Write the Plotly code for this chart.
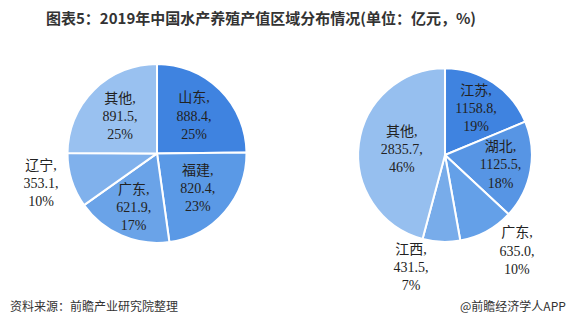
import plotly.graph_objects as go

# Left pie: 2019 province breakdown (part 1)
left_labels = ["山东", "福建", "广东", "辽宁", "其他"]
left_values = [888.4, 820.4, 621.9, 353.1, 891.5]
left_colors = ["#3f83e0", "#5a99e6", "#6aa3e8", "#80b1ec", "#99c1f0"]
left_textpos = ["inside", "inside", "inside", "outside", "inside"]

# Right pie: part 2
right_labels = ["江苏", "湖北", "广东", "江西", "其他"]
right_values = [1158.8, 1125.5, 635.0, 431.5, 2835.7]
right_colors = ["#3f83e0", "#5795e4", "#64a0e8", "#78acea", "#96bfef"]
right_textpos = ["inside", "inside", "outside", "outside", "inside"]

title_text = "图表5：2019年中国水产养殖产值区域分布情况(单位：亿元，%)"
source_text = "资料来源：前瞻产业研究院整理"
brand_text = "@前瞻经济学人APP"

label_font = dict(family="Liberation Serif, Noto Sans CJK SC", size=14, color="#222222")
tmpl = "%{label},<br>%{value:.1f},<br>%{percent:.0%}"

fig = go.Figure()
fig.add_trace(go.Pie(
    labels=left_labels, values=left_values, sort=False, direction="clockwise", rotation=0,
    marker=dict(colors=left_colors, line=dict(color="white", width=2)),
    texttemplate=tmpl, textposition=left_textpos, insidetextorientation="horizontal",
    textfont=label_font, outsidetextfont=label_font, insidetextfont=label_font,
    domain=dict(x=[0.117, 0.432], y=[0.255, 0.804]), showlegend=False, hoverinfo="label+value+percent",
))
fig.add_trace(go.Pie(
    labels=right_labels, values=right_values, sort=False, direction="clockwise", rotation=0,
    marker=dict(colors=right_colors, line=dict(color="white", width=2)),
    texttemplate=tmpl, textposition=right_textpos, insidetextorientation="horizontal",
    textfont=label_font, outsidetextfont=label_font, insidetextfont=label_font,
    domain=dict(x=[0.626, 0.930], y=[0.258, 0.791]), showlegend=False, hoverinfo="label+value+percent",
))

fig.add_annotation(text="<b>" + title_text + "</b>", x=261 / 572, y=1 - 17 / 326, xref="paper", yref="paper",
                   xanchor="center", yanchor="middle", showarrow=False,
                   font=dict(family="Noto Sans CJK SC", size=15, color="#333333"))
fig.add_annotation(text=source_text, x=8 / 572, y=1 - 305 / 326, xref="paper", yref="paper",
                   xanchor="left", yanchor="middle", showarrow=False,
                   font=dict(family="Noto Sans CJK SC", size=12, color="#333333"))
fig.add_annotation(text=brand_text, x=568 / 572, y=1 - 305 / 326, xref="paper", yref="paper",
                   xanchor="right", yanchor="middle", showarrow=False,
                   font=dict(family="Noto Sans CJK SC", size=12, color="#333333"))

fig.update_layout(width=572, height=326, margin=dict(l=0, r=0, t=0, b=0),
                  paper_bgcolor="white", plot_bgcolor="white",
                  uniformtext=dict(minsize=14, mode="show"))
fig.write_html("out.html")
